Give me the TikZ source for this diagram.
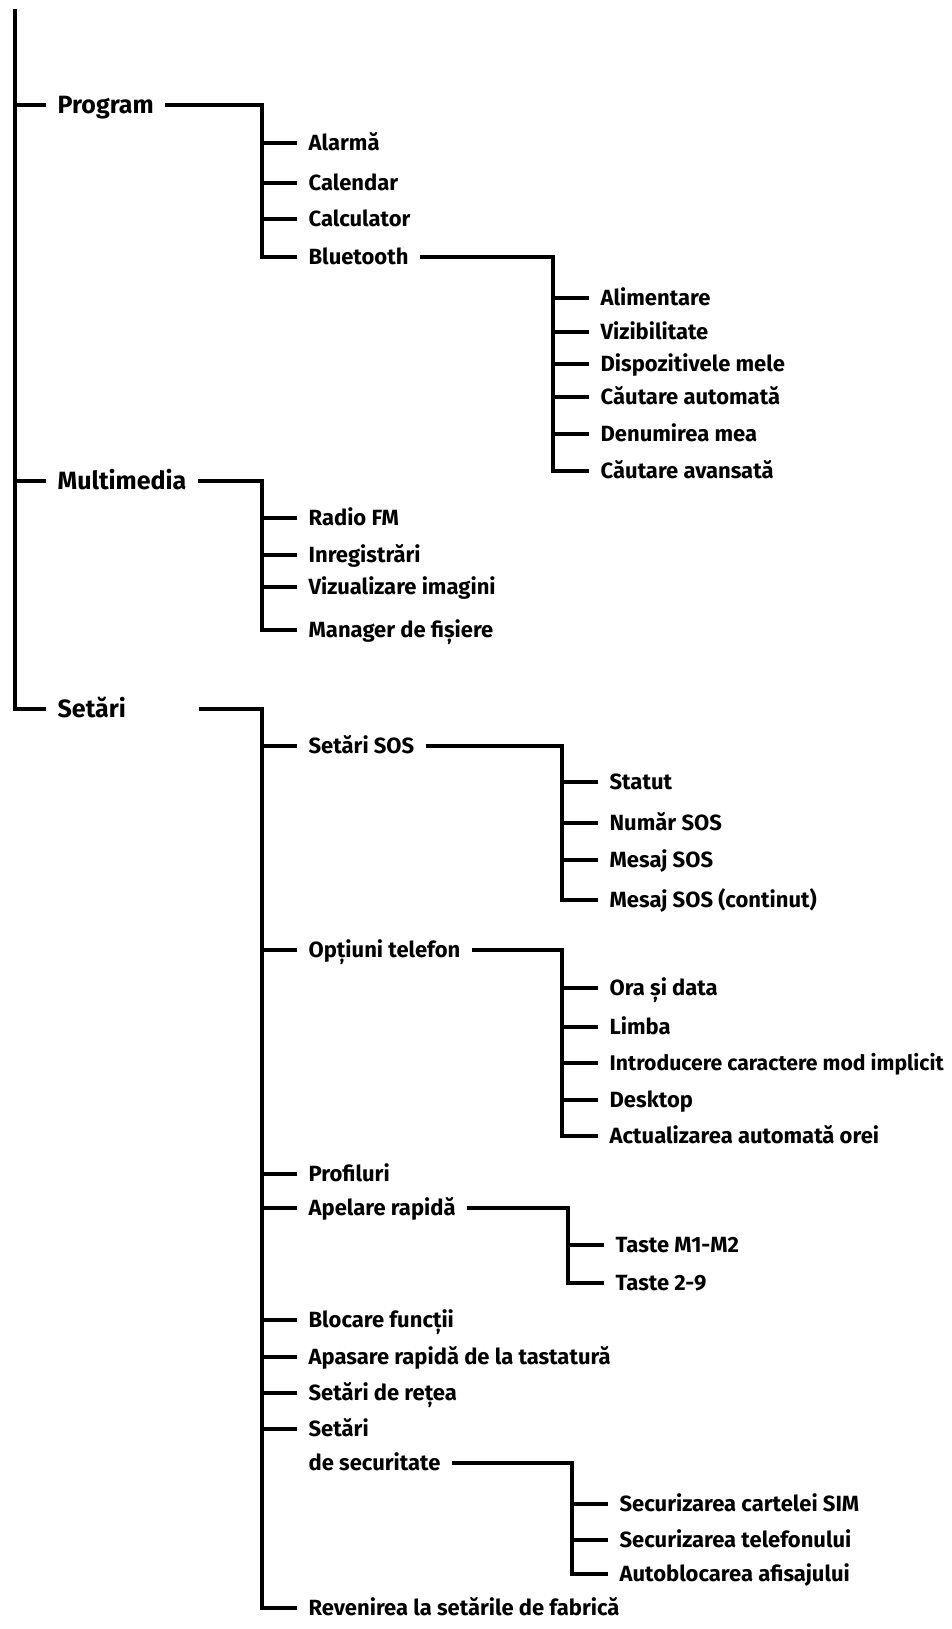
\documentclass[tikz,border=0pt]{standalone}
\usepackage{fontspec}
\setmainfont{Fira Sans}
\usepackage{tikz}

\begin{document}
\begin{tikzpicture}[x=1pt, y=-1pt, line width=3.3pt, every node/.style={anchor=west, inner xsep=10pt, inner ysep=0pt, text height=15pt, text depth=0pt, font=\bfseries\fontsize{22}{24}\selectfont}, head/.style={text height=17.2pt, font=\bfseries\fontsize{25}{28}\selectfont}]
				\useasboundingbox (0,0) rectangle (951,1629);
				\coordinate (top) at (15,9);
				% first level
				\node (prog) at (46,105) [head] {Program};
				\node (multi) at (46,481) [head] {Multimedia};
				\node (setari) at (46,709) [head] {Setări};
				% Program
				\node (alarma) at (297,143) {Alarmă};
				\node (calendar) at (297,183) {Calendar};
				\node (calc) at (297,219) {Calculator};
				\node (bt) at (297,257) {Bluetooth};
				\node (alim) at (589,298) {Alimentare};
				\node (vizib) at (589,332) {Vizibilitate};
				\node (dispoz) at (589,364) {Dispozitivele mele};
				\node (cautauto) at (589,397) {Căutare automată};
				\node (denum) at (589,434) {Denumirea mea};
				\node (cautav) at (589,471) {Căutare avansată};
				% Multimedia
				\node (radio) at (297,518) {Radio FM};
				\node (inreg) at (297,555) {Inregistrări};
				\node (vizimg) at (297,587) {Vizualizare imagini};
				\node (manager) at (297,630) {Manager de fișiere};
				% Setari
				\node (setsos) at (297,746) {Setări SOS};
				\node (statut) at (598,782) {Statut};
				\node (numar) at (598,823) {Număr SOS};
				\node (mesaj) at (598,860) {Mesaj SOS};
				\node (mesajc) at (598,900) {Mesaj SOS (continut)};
				\node (optiuni) at (297,950) {Opțiuni telefon};
				\node (ora) at (598,988) {Ora și data};
				\node (limba) at (598,1027) {Limba};
				\node (intro) at (598,1063) [font=\bfseries\fontsize{21.2}{24}\selectfont] {Introducere caractere mod implicit};
				\node (desktop) at (598,1100) {Desktop};
				\node (actual) at (598,1136) {Actualizarea automată orei};
				\node (profil) at (297,1174) {Profiluri};
				\node (apelare) at (297,1208) {Apelare rapidă};
				\node (tastem) at (604,1245) {Taste M1-M2};
				\node (taste29) at (604,1283) {Taste 2-9};
				\node (blocare) at (297,1320) {Blocare funcții};
				\node (apasare) at (297,1357) {Apasare rapidă de la tastatură};
				\node (retea) at (297,1393) {Setări de rețea};
				\node (setsec) at (297,1429) {Setări};
				\node (setsecb) at (297,1463) {de securitate};
				\node (sim) at (608,1504) {Securizarea cartelei SIM};
				\node (tel) at (608,1540) {Securizarea telefonului};
				\node (autobl) at (608,1574) {Autoblocarea afisajului};
				\node (revenire) at (297,1608) {Revenirea la setările de fabrică};
				
				\draw (top) |- (setari.west);
				\draw (prog.west) -- ++(-31,0);
				\draw (multi.west) -- ++(-31,0);
				
				\draw (prog.east) -| ([xshift=-35pt]bt.west) -- (bt.west);
				\draw (alarma.west) -- ++(-35,0);
				\draw (calendar.west) -- ++(-35,0);
				\draw (calc.west) -- ++(-35,0);
				
				\draw (bt.east) -| ([xshift=-36pt]cautav.west) -- (cautav.west);
				\draw (alim.west) -- ++(-36,0);
				\draw (vizib.west) -- ++(-36,0);
				\draw (dispoz.west) -- ++(-36,0);
				\draw (cautauto.west) -- ++(-36,0);
				\draw (denum.west) -- ++(-36,0);
				
				\draw (multi.east) -| ([xshift=-35pt]manager.west) -- (manager.west);
				\draw (radio.west) -- ++(-35,0);
				\draw (inreg.west) -- ++(-35,0);
				\draw (vizimg.west) -- ++(-35,0);
				
				\draw ([xshift=61pt]setari.east) -| ([xshift=-35pt]revenire.west) -- (revenire.west);
				\draw (setsos.west) -- ++(-35,0);
				\draw (optiuni.west) -- ++(-35,0);
				\draw (profil.west) -- ++(-35,0);
				\draw (apelare.west) -- ++(-35,0);
				\draw (blocare.west) -- ++(-35,0);
				\draw (apasare.west) -- ++(-35,0);
				\draw (retea.west) -- ++(-35,0);
				\draw (setsec.west) -- ++(-35,0);
				
				\draw (setsos.east) -| ([xshift=-36pt]mesajc.west) -- (mesajc.west);
				\draw (statut.west) -- ++(-36,0);
				\draw (numar.west) -- ++(-36,0);
				\draw (mesaj.west) -- ++(-36,0);
				
				\draw (optiuni.east) -| ([xshift=-36pt]actual.west) -- (actual.west);
				\draw (ora.west) -- ++(-36,0);
				\draw (limba.west) -- ++(-36,0);
				\draw (intro.west) -- ++(-36,0);
				\draw (desktop.west) -- ++(-36,0);
				
				\draw (apelare.east) -| ([xshift=-36pt]taste29.west) -- (taste29.west);
				\draw (tastem.west) -- ++(-36,0);
				
				\draw (setsecb.east) -| ([xshift=-36pt]autobl.west) -- (autobl.west);
				\draw (sim.west) -- ++(-36,0);
				\draw (tel.west) -- ++(-36,0);
			\end{tikzpicture}
\end{document}
